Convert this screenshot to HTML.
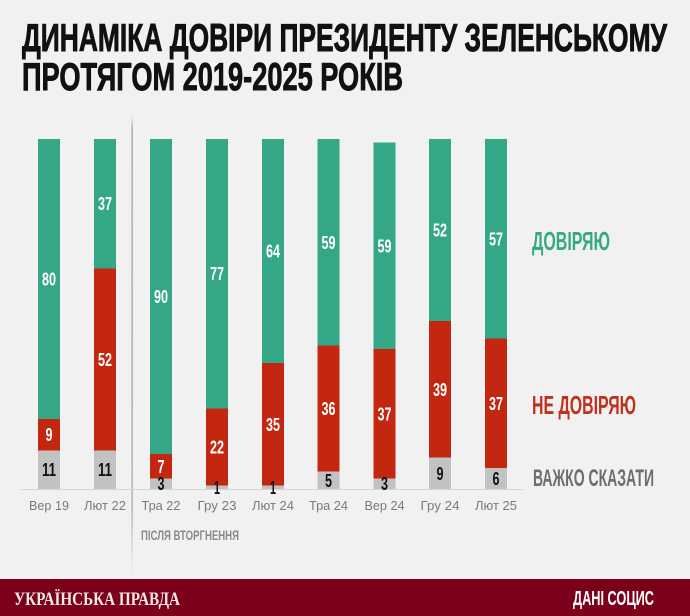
<!DOCTYPE html>
<html><head><meta charset="utf-8">
<style>
html,body{margin:0;padding:0;background:#f1f1f1;}
svg{display:block;}
</style></head>
<body>
<svg width="690" height="616" viewBox="0 0 690 616" xmlns="http://www.w3.org/2000/svg">
<defs>
<linearGradient id="sep" x1="0" y1="0" x2="0" y2="1">
<stop offset="0" stop-color="#9a9a9a" stop-opacity="0"/>
<stop offset="0.03" stop-color="#9a9a9a" stop-opacity="1"/>
<stop offset="0.85" stop-color="#9a9a9a" stop-opacity="0.9"/>
<stop offset="1" stop-color="#9a9a9a" stop-opacity="0"/>
</linearGradient>
</defs>
<rect x="0" y="0" width="690" height="616" fill="#f1f1f1"/>

<!-- Title -->
<g font-family="Liberation Sans, DejaVu Sans, sans-serif" font-weight="bold" fill="#111" stroke="#111" stroke-width="0.9">
<text x="22" y="51" font-size="38.5" textLength="645" lengthAdjust="spacingAndGlyphs">ДИНАМІКА ДОВІРИ ПРЕЗИДЕНТУ ЗЕЛЕНСЬКОМУ</text>
<text x="22" y="90" font-size="38.5" textLength="381" lengthAdjust="spacingAndGlyphs">ПРОТЯГОМ 2019-2025 РОКІВ</text>
</g>

<!-- separator -->
<rect x="131.5" y="115" width="1.2" height="460" fill="url(#sep)"/>

<!-- axis line -->
<rect x="21" y="489" width="502" height="1" fill="#d6d6d6"/>

<!-- bars -->
<g>
<!-- 0 -->
<rect x="38" y="139" width="22" height="280" fill="#34a886"/>
<rect x="38" y="419" width="22" height="31.5" fill="#c4270f"/>
<rect x="38" y="450.5" width="22" height="38.5" fill="#c2c2c2"/>
<!-- 1 -->
<rect x="94" y="139" width="22" height="129.5" fill="#34a886"/>
<rect x="94" y="268.5" width="22" height="182" fill="#c4270f"/>
<rect x="94" y="450.5" width="22" height="38.5" fill="#c2c2c2"/>
<!-- 2 -->
<rect x="150" y="139" width="22" height="315" fill="#34a886"/>
<rect x="150" y="454" width="22" height="24.5" fill="#c4270f"/>
<rect x="150" y="478.5" width="22" height="10.5" fill="#c2c2c2"/>
<!-- 3 -->
<rect x="206" y="139" width="22" height="269.5" fill="#34a886"/>
<rect x="206" y="408.5" width="22" height="77" fill="#c4270f"/>
<rect x="206" y="485.5" width="22" height="3.5" fill="#c2c2c2"/>
<!-- 4 -->
<rect x="262" y="139" width="22" height="224" fill="#34a886"/>
<rect x="262" y="363" width="22" height="122.5" fill="#c4270f"/>
<rect x="262" y="485.5" width="22" height="3.5" fill="#c2c2c2"/>
<!-- 5 -->
<rect x="317.5" y="139" width="22" height="206.5" fill="#34a886"/>
<rect x="317.5" y="345.5" width="22" height="126" fill="#c4270f"/>
<rect x="317.5" y="471.5" width="22" height="17.5" fill="#c2c2c2"/>
<!-- 6 -->
<rect x="373.5" y="142.5" width="22" height="206.5" fill="#34a886"/>
<rect x="373.5" y="349" width="22" height="129.5" fill="#c4270f"/>
<rect x="373.5" y="478.5" width="22" height="10.5" fill="#c2c2c2"/>
<!-- 7 -->
<rect x="429" y="139" width="22" height="182" fill="#34a886"/>
<rect x="429" y="321" width="22" height="136.5" fill="#c4270f"/>
<rect x="429" y="457.5" width="22" height="31.5" fill="#c2c2c2"/>
<!-- 8 -->
<rect x="485" y="139" width="22" height="199.5" fill="#34a886"/>
<rect x="485" y="338.5" width="22" height="129.5" fill="#c4270f"/>
<rect x="485" y="468" width="22" height="21" fill="#c2c2c2"/>
</g>

<!-- value labels -->
<g font-family="Liberation Sans, DejaVu Sans, sans-serif" font-weight="bold" font-size="18" text-anchor="middle" lengthAdjust="spacingAndGlyphs">
<g fill="#ffffff">
<text x="49" y="285.5" textLength="14" lengthAdjust="spacingAndGlyphs">80</text>
<text x="49" y="441" textLength="7" lengthAdjust="spacingAndGlyphs">9</text>
<text x="105" y="210" textLength="14" lengthAdjust="spacingAndGlyphs">37</text>
<text x="105" y="366" textLength="14" lengthAdjust="spacingAndGlyphs">52</text>
<text x="161" y="303" textLength="14" lengthAdjust="spacingAndGlyphs">90</text>
<text x="161" y="472.75" textLength="7" lengthAdjust="spacingAndGlyphs">7</text>
<text x="217" y="280" textLength="14" lengthAdjust="spacingAndGlyphs">77</text>
<text x="217" y="453.5" textLength="14" lengthAdjust="spacingAndGlyphs">22</text>
<text x="273" y="257.5" textLength="14" lengthAdjust="spacingAndGlyphs">64</text>
<text x="273" y="430.75" textLength="14" lengthAdjust="spacingAndGlyphs">35</text>
<text x="328.5" y="248.75" textLength="14" lengthAdjust="spacingAndGlyphs">59</text>
<text x="328.5" y="415" textLength="14" lengthAdjust="spacingAndGlyphs">36</text>
<text x="384.5" y="252.25" textLength="14" lengthAdjust="spacingAndGlyphs">59</text>
<text x="384.5" y="420.25" textLength="14" lengthAdjust="spacingAndGlyphs">37</text>
<text x="440" y="236.5" textLength="14" lengthAdjust="spacingAndGlyphs">52</text>
<text x="440" y="395.75" textLength="14" lengthAdjust="spacingAndGlyphs">39</text>
<text x="496" y="245.25" textLength="14" lengthAdjust="spacingAndGlyphs">57</text>
<text x="496" y="409.75" textLength="14" lengthAdjust="spacingAndGlyphs">37</text>
</g>
<g fill="#111111">
<text x="49" y="476" textLength="14" lengthAdjust="spacingAndGlyphs">11</text>
<text x="105" y="476" textLength="14" lengthAdjust="spacingAndGlyphs">11</text>
<text x="161" y="490" textLength="7" lengthAdjust="spacingAndGlyphs">3</text>
<text x="217" y="493.75" textLength="6" lengthAdjust="spacingAndGlyphs">1</text>
<text x="273" y="493.75" textLength="6" lengthAdjust="spacingAndGlyphs">1</text>
<text x="328.5" y="486.75" textLength="7" lengthAdjust="spacingAndGlyphs">5</text>
<text x="384.5" y="490" textLength="7" lengthAdjust="spacingAndGlyphs">3</text>
<text x="440" y="479.75" textLength="7" lengthAdjust="spacingAndGlyphs">9</text>
<text x="496" y="485" textLength="7" lengthAdjust="spacingAndGlyphs">6</text>
</g>
</g>

<!-- x labels -->
<g font-family="Liberation Sans, DejaVu Sans, sans-serif" font-size="13" fill="#7a7a7a" text-anchor="middle">
<text x="49" y="510" textLength="40" lengthAdjust="spacingAndGlyphs">Вер 19</text>
<text x="105" y="510" textLength="42" lengthAdjust="spacingAndGlyphs">Лют 22</text>
<text x="161" y="510" textLength="39" lengthAdjust="spacingAndGlyphs">Тра 22</text>
<text x="217" y="510" textLength="39" lengthAdjust="spacingAndGlyphs">Гру 23</text>
<text x="273" y="510" textLength="42" lengthAdjust="spacingAndGlyphs">Лют 24</text>
<text x="328.5" y="510" textLength="39" lengthAdjust="spacingAndGlyphs">Тра 24</text>
<text x="384.5" y="510" textLength="40" lengthAdjust="spacingAndGlyphs">Вер 24</text>
<text x="440" y="510" textLength="39" lengthAdjust="spacingAndGlyphs">Гру 24</text>
<text x="496" y="510" textLength="42" lengthAdjust="spacingAndGlyphs">Лют 25</text>
</g>

<text x="141" y="540" font-family="Liberation Sans, DejaVu Sans, sans-serif" font-weight="bold" font-size="14" fill="#8a8a8a" textLength="98" lengthAdjust="spacingAndGlyphs">ПІСЛЯ ВТОРГНЕННЯ</text>

<!-- legend -->
<g font-family="Liberation Sans, DejaVu Sans, sans-serif" font-weight="bold">
<text x="532" y="250" font-size="26" fill="#35a886" textLength="78" lengthAdjust="spacingAndGlyphs">ДОВІРЯЮ</text>
<text x="532" y="414" font-size="26" fill="#c1301c" textLength="104" lengthAdjust="spacingAndGlyphs">НЕ ДОВІРЯЮ</text>
<text x="533" y="486" font-size="24" fill="#6d6d6d" textLength="121" lengthAdjust="spacingAndGlyphs">ВАЖКО СКАЗАТИ</text>
</g>

<!-- footer -->
<rect x="0" y="579" width="690" height="37" fill="#7b0019"/>
<text x="14" y="605" font-family="Liberation Serif, DejaVu Serif, serif" font-weight="bold" font-size="19" fill="#f3e9ea" textLength="166" lengthAdjust="spacingAndGlyphs">УКРАЇНСЬКА ПРАВДА</text>
<text x="573" y="605" font-family="Liberation Sans, DejaVu Sans, sans-serif" font-weight="bold" font-size="20.5" fill="#ffffff" textLength="81" lengthAdjust="spacingAndGlyphs">ДАНІ СОЦИС</text>
</svg>
</body></html>
